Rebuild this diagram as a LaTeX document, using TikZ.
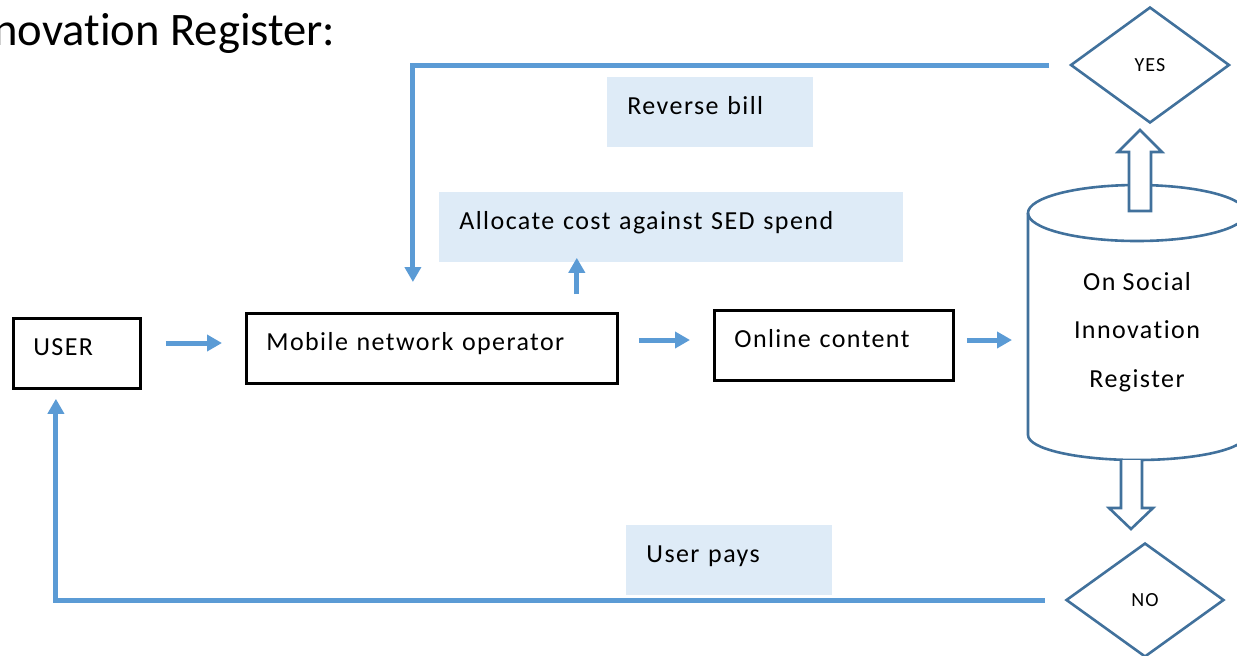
\documentclass[tikz,border=0pt]{standalone}
\usepackage{fontspec}
\setmainfont{Carlito}[RawFeature={-liga;-clig;-calt;-dlig}]
\newfontfamily\boxfont{Carlito}[LetterSpace=5.5,Ligatures=NoCommon]
\usetikzlibrary{arrows.meta,calc,shapes.geometric}
\definecolor{flowblue}{HTML}{5B9BD5}
\definecolor{shapeblue}{HTML}{41719C}
\definecolor{notefill}{HTML}{DEEBF7}
\begin{document}
\begin{tikzpicture}
[x=0.5pt,y=-0.5pt,
  boxDecorate/.style={draw,line width=1.4pt,anchor=north west,align=left,
    inner xsep=10pt,inner ysep=0pt,text height=18.5pt,text depth=16.5pt,
    font=\boxfont\fontsize{13}{16}\selectfont},
  noteDecorate/.style={boxDecorate,draw=none,fill=notefill},
  choiceDecorate/.style={shape=diamond,draw=shapeblue,line width=1.3pt,
    inner sep=0pt,font=\boxfont\fontsize{10}{12}\selectfont},
  shapeDecorate/.style={draw=shapeblue,line width=1.3pt},
  flowDecorate/.style={draw=flowblue,line width=2.5pt,
    -{Triangle[length=7.5pt,width=8pt]}}]
\useasboundingbox (0,0) rectangle (1237,655);
\clip (0,0) rectangle (1237,655);
%% heading (kern keeps t and i apart)
\node (title) at (-7,45) [anchor=base west,inner sep=0pt,
  font=\fontsize{23.3}{28}\selectfont] {novat\kern0pt ion Register:};
%% boxes and notes
\foreach \nodename/\x/\y/\w/\txt in {
  user/12/317/43.5/USER, mno/245/312/165.5/Mobile network operator,
  online/713/309/99.5/Online content}
{
  \node (\nodename) at (\x,\y) [boxDecorate,text width=\w pt] {\txt};
}
\foreach \nodename/\x/\y/\w/\txt in {
  revbill/606/76/83/Reverse bill, alloc/438/191/212/Allocate cost against SED spend,
  userpays/625/524/83/User pays}
{
  \node (\nodename) at (\x,\y) [noteDecorate,text width=\w pt] {\txt};
}
%% decisions
\node (yes) at (1150,65) [choiceDecorate,minimum width=79.5pt,minimum height=58pt] {YES};
\node (no) at (1145,600) [choiceDecorate,minimum width=79pt,minimum height=57pt] {NO};
%% register drum
\node (reg) at (1137,332) [align=center,
  font=\boxfont\fontsize{13}{24.3}\selectfont] {On Social\\Innovation\\Register};
\coordinate (regtop) at ($(reg.center)+(0,-119)$);
\coordinate (regbot) at ($(reg.center)+(0,103)$);
\coordinate (regwest) at ($(regtop)+(-109,0)$);
\draw[shapeDecorate] (regwest) -- ($(regbot)+(-109,0)$)
  arc[start angle=180,end angle=360,x radius=54.5pt,y radius=12.5pt]
  -- ($(regtop)+(109,0)$);
\draw[shapeDecorate] (regtop) ellipse[x radius=54.5pt,y radius=14pt];
% hollow arrows out of the drum
\draw[shapeDecorate,fill=white] ($(regtop)+(-8,-2)$) -- ++(0,-59) -- ++(-11,0)
  -- ++(22,-22) -- ++(22,22) -- ++(-11,0) -- ++(0,59) -- cycle;
\draw[shapeDecorate,fill=white] ($(regbot)+(-16,25)$) -- ++(0,48) -- ++(-12,0)
  -- ++(22,21) -- ++(22,-21) -- ++(-11,0) -- ++(0,-48);
%% edges or lines
\path
\foreach \startnode/\endnode/\y/\a/\b in {
  user/mno/343/12/11.5, mno/online/340/10/11.5}
{
  (\startnode.east |- 0,\y) edge[flowDecorate,shorten <=\a pt,shorten >=\b pt]
    (\endnode.west |- 0,\y)
};
\draw[flowDecorate,shorten <=6pt,shorten >=8pt] (online.east |- 0,340) -- (regwest |- 0,340);
\coordinate (mnotap) at ($(mno.north east)+(-42,0)$);
\draw[flowDecorate,shorten <=9pt,shorten >=-3pt] (mnotap) -- (mnotap |- alloc.south);
\draw[flowDecorate,shorten <=10pt,shorten >=15pt]
  (yes.west) -| ($(mno.north)+(-19,0)$);
\draw[flowDecorate,shorten <=10pt,shorten >=4.5pt]
  (no.west) -| ($(user.south)+(-21,0)$);
\end{tikzpicture}
\end{document}
